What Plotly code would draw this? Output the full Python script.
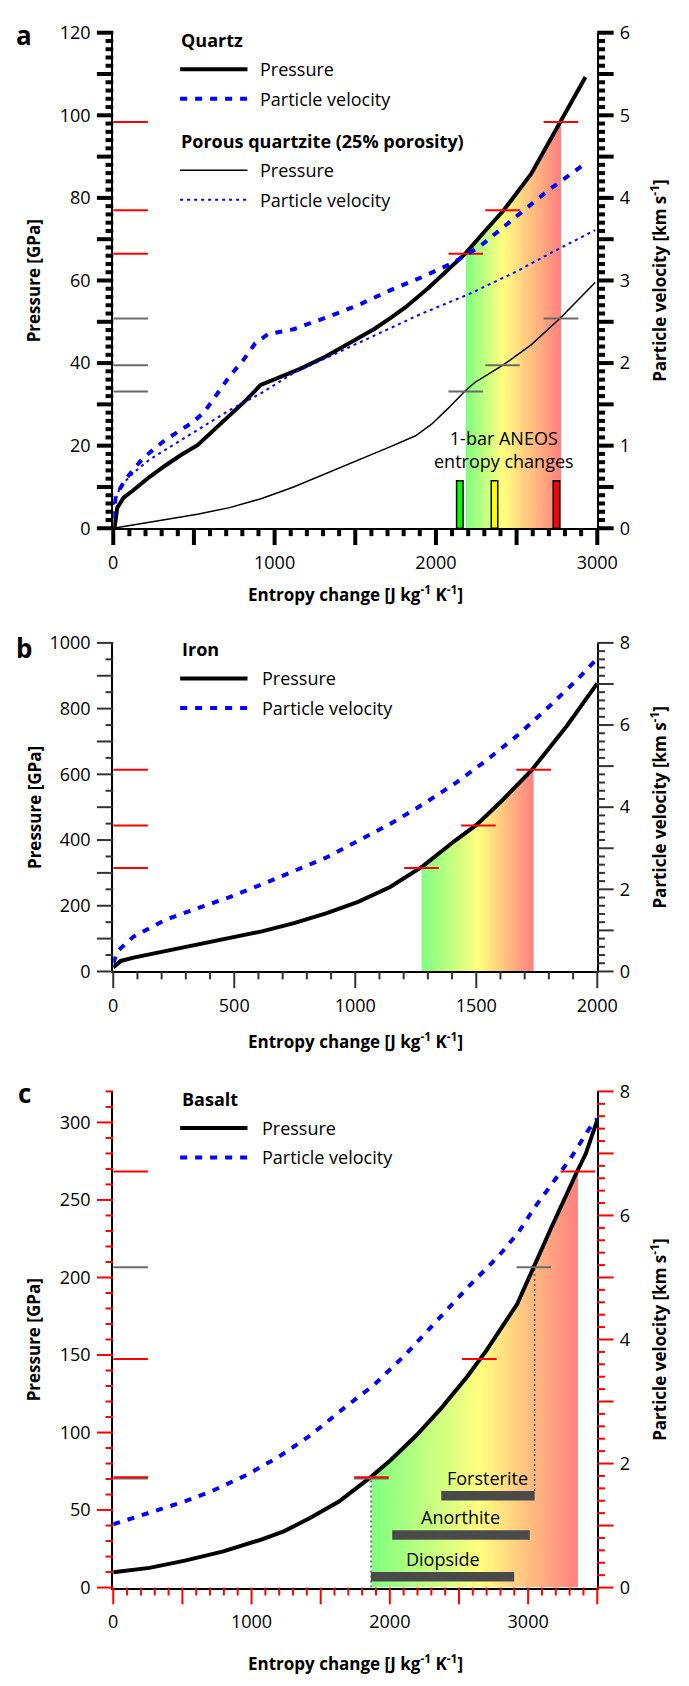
import numpy as np
import plotly.graph_objects as go

W, H = 689, 1686
FONT = "Open Sans"

# ---------------- DATA ----------------
qz_S = [0, 9, 25, 64, 124, 224, 323, 422, 522, 621, 721, 820, 914, 1019, 1158, 1317, 1476, 1615, 1715,
        1814, 1953, 2182, 2311, 2420, 2590, 2768, 2927]
qz_P = [0, 0.3, 5.0, 7.4, 9.2, 12.4, 15.2, 17.8, 20.1, 23.7, 27.3, 30.9, 34.7, 36.4, 38.6, 41.6, 45.0, 48.2, 50.8,
        53.6, 58.2, 66.5, 72.3, 77.0, 85.8, 98.3, 109.3]
qzv_S = [0, 15, 75, 184, 323, 482, 562, 621, 721, 800, 880, 959, 1118, 1317, 1516, 1715, 1913, 2112, 2271, 2470,
         2709, 2907]
qzv_v = [0.12, 0.39, 0.59, 0.85, 1.07, 1.27, 1.40, 1.56, 1.84, 2.02, 2.24, 2.35, 2.41, 2.55, 2.70, 2.88, 3.04, 3.22,
         3.41, 3.73, 4.11, 4.39]
pq_S = [0, 224, 522, 721, 920, 1118, 1317, 1516, 1715, 1874, 1973, 2072, 2182, 2241, 2420, 2590, 2768, 2987]
pq_P = [0, 1.4, 3.4, 5.0, 7.2, 10.0, 13.2, 16.4, 19.7, 22.4, 25.2, 28.9, 33.3, 35.3, 39.6, 44.4, 50.8, 59.5]
pqv_S = [0, 45, 124, 224, 323, 522, 721, 920, 1118, 1317, 1516, 1715, 1913, 2211, 2510, 2709, 2987]
pqv_v = [0.28, 0.51, 0.67, 0.83, 0.95, 1.19, 1.43, 1.64, 1.88, 2.06, 2.24, 2.43, 2.60, 2.84, 3.12, 3.33, 3.61]
qz_thr_S = [2185, 2413, 2775]
qz_thr_P = [66.5, 77.0, 98.4]
pq_thr_P = [33.1, 39.5, 50.8]
aneos_S = [2148, 2363, 2747]
aneos_h = [11.5, 11.5, 11.5]
aneos_col = ["#00ff00", "#ffff00", "#ff0000"]

fe_S = [0, 31, 84, 216, 349, 481, 614, 747, 879, 1012, 1144, 1277, 1410, 1502, 1609, 1728, 1874, 2000]
fe_P = [12, 32, 42, 62, 82, 102, 122, 147, 177, 212, 257, 319, 397, 447, 522, 612, 747, 877]
fev_S = [0, 17, 84, 216, 349, 481, 614, 747, 879, 1012, 1144, 1277, 1410, 1542, 1675, 1808, 1914, 2000]
fev_v = [0.2, 0.49, 0.85, 1.26, 1.54, 1.81, 2.12, 2.44, 2.77, 3.18, 3.59, 4.06, 4.57, 5.14, 5.77, 6.49, 7.09, 7.62]
fe_thr_S = [1274, 1509, 1737]
fe_thr_P = [315, 444, 614]

ba_S = [0, 262, 518, 796, 1075, 1237, 1423, 1632, 1864, 2003, 2189, 2374, 2560, 2699, 2920, 3035, 3164, 3349,
        3418, 3500]
ba_P = [9.9, 12.7, 17.4, 23.3, 31.1, 36.4, 44.9, 55.5, 71.4, 82.0, 97.9, 115.9, 136.1, 153.0, 182.7, 206.4,
        231.4, 267.4, 280.1, 301.4]
bav_S = [0, 262, 518, 727, 959, 1191, 1423, 1655, 1887, 2119, 2351, 2572, 2792, 2931, 3047, 3175, 3307, 3442, 3500]
bav_v = [1.02, 1.20, 1.39, 1.57, 1.81, 2.10, 2.45, 2.87, 3.27, 3.77, 4.33, 4.86, 5.36, 5.73, 6.13, 6.53, 6.92,
         7.40, 7.56]
ba_thr_S = [1867, 2647, 3360]
ba_thr_P = [71.2, 147.5, 268.3]
ba_gray_S = [1867, 3041]
ba_gray_P = [70.4, 206.6]
min_names = ["Forsterite", "Anorthite", "Diopside"]
min_start = [2372, 2017, 1864]
min_end = [3047, 3012, 2899]
min_P = [59.3, 33.9, 7.0]

X0, X1 = 112.5, 615.5
PAN = {"a": (20, 522.7), "b": (639, 972.3), "c": (1094, 1597.3)}
MARK_PX = 36
GREEN, YELLOW, RED = "rgb(128,255,128)", "rgb(255,255,128)", "rgb(255,128,128)"
BLUE = "#0000ff"
GRAYM = "#6a6a6a"
THICK_DASH = "7px,8px"
THIN_DASH = "3px,4px"
LONG, SHORT = 17, 8
TICKSTYLE = {"a": ("black", 4), "b": ("#333333", 2), "c": ("red", 2)}


def px(x):
    return float(x) / W


def py(y):
    return 1 - float(y) / H


fig = go.Figure()


def line(x, y, xa, ya, color, width, dash="solid"):
    fig.add_trace(go.Scatter(x=x, y=y, xaxis=xa, yaxis=ya, mode="lines",
                             line=dict(color=color, width=width, dash=dash),
                             hoverinfo="skip", showlegend=False))


def fill(S, P, lo, mid, hi, xa, ya):
    xs = [lo] + [s for s in S if lo < s < hi] + [hi]
    ys = [float(np.interp(lo, S, P))] + [p for s, p in zip(S, P) if lo < s < hi] + [float(np.interp(hi, S, P))]
    f = (mid - lo) / (hi - lo)
    fig.add_trace(go.Scatter(x=xs, y=ys, xaxis=xa, yaxis=ya, mode="lines", fill="tozeroy",
                             line=dict(width=0, color="rgba(0,0,0,0)"),
                             fillgradient=dict(type="horizontal",
                                               colorscale=[[0, GREEN], [f, YELLOW], [1, RED]]),
                             hoverinfo="skip", showlegend=False))


def marks(centers, levels, half, xa, ya, color, left=True):
    xs, ys = [], []
    for c, l in zip(centers, levels):
        xs += [c - half, c + half, None]
        ys += [l, l, None]
        if left:
            xs += [0, 2 * half, None]
            ys += [l, l, None]
    line(xs, ys, xa, ya, color, 2)


half_a = MARK_PX / (X1 - X0) * 3000 / 2
fill(qz_S, qz_P, qz_thr_S[0], qz_thr_S[1], qz_thr_S[2], "x", "y")
for s, h, c in zip(aneos_S, aneos_h, aneos_col):
    fig.add_trace(go.Scatter(x=[s - 20, s + 20, s + 20, s - 20, s - 20], y=[0, 0, h, h, 0], xaxis="x", yaxis="y",
                             mode="lines", fill="toself", fillcolor=c, line=dict(color="black", width=1.5),
                             hoverinfo="skip", showlegend=False))
line(pq_S, pq_P, "x", "y", "black", 1.5)
line(pqv_S, pqv_v, "x", "y2", BLUE, 2, THIN_DASH)
line(qzv_S, qzv_v, "x", "y2", BLUE, 4, THICK_DASH)
line(qz_S, qz_P, "x", "y", "black", 4)
marks(qz_thr_S, pq_thr_P, half_a, "x", "y", GRAYM)
marks(qz_thr_S, qz_thr_P, half_a, "x", "y", "red")

half_b = MARK_PX / (X1 - X0) * 2000 / 2
fill(fe_S, fe_P, fe_thr_S[0], fe_thr_S[1], fe_thr_S[2], "x2", "y3")
line(fev_S, fev_v, "x2", "y4", BLUE, 4, THICK_DASH)
line(fe_S, fe_P, "x2", "y3", "black", 4)
marks(fe_thr_S, fe_thr_P, half_b, "x2", "y3", "red")

half_c = MARK_PX / (X1 - X0) * 3500 / 2
fill(ba_S, ba_P, ba_thr_S[0], ba_thr_S[1], ba_thr_S[2], "x3", "y5")
for s, e, p in zip(min_start, min_end, min_P):
    line([s, e], [p, p], "x3", "y5", "#4a4a4a", 9.5)
line([min_start[2], min_start[2]], [0, ba_thr_P[0]], "x3", "y5", "#555555", 1.5, "2px,3px")
line([min_end[0], min_end[0]], [min_P[0] + 3, ba_gray_P[1]], "x3", "y5", "#555555", 1.5, "2px,3px")
line(bav_S, bav_v, "x3", "y6", BLUE, 4, THICK_DASH)
line(ba_S, ba_P, "x3", "y5", "black", 4)
marks(ba_gray_S, ba_gray_P, half_c, "x3", "y5", GRAYM)
marks(ba_thr_S, ba_thr_P, half_c, "x3", "y5", "red")

tickfont = dict(family=FONT, size=18, color="black")
shapes = []


def axis(rng, dom, anchor, side, step, overlay=None):
    d = dict(domain=dom, range=rng, anchor=anchor, side=side, tickmode="linear", tick0=0, dtick=step,
             ticks="outside", ticklen=LONG, tickwidth=2, tickcolor="rgba(0,0,0,0)", showticklabels=True,
             showline=True, linewidth=2, linecolor="black", showgrid=False, zeroline=False,
             tickfont=tickfont, fixedrange=True)
    if overlay:
        d["overlaying"] = overlay
    return d


def tick_marks(vmax, major, minor, kind, pan, style):
    top, bot = pan
    n = int(round(vmax / minor))
    for i in range(n + 1):
        v = i * minor
        ln = LONG if abs(v / major - round(v / major)) < 1e-6 else SHORT
        if kind == "x":
            xp = X0 + v / vmax * (X1 - X0)
            x0, x1, y0, y1 = xp, xp, bot, bot + ln
        else:
            yp = bot - v / vmax * (bot - top)
            if kind == "left":
                x0, x1 = X0 - ln, X0
            else:
                x0, x1 = X1, X1 + ln
            y0 = y1 = yp
        shapes.append(dict(type="line", xref="paper", yref="paper", x0=px(x0), x1=px(x1), y0=py(y0), y1=py(y1),
                           line=dict(color=style[0], width=style[1])))


axes_spec = [
    ("xaxis", 3000, 1000, 500, 100, "yaxis", 120, 20, 10, 2, "yaxis2", 6, 1, 0.5, 0.1, "a", "x", "y"),
    ("xaxis2", 2000, 500, 500, 100, "yaxis3", 1000, 200, 100, 50, "yaxis4", 8, 2, 1, 0.2, "b", "x2", "y3"),
    ("xaxis3", 3500, 1000, 500, 100, "yaxis5", 320, 50, 50, 10, "yaxis6", 8, 2, 1, 0.2, "c", "x3", "y5"),
]
lay = {}
for (xk, xm, xl, xM, xmn, ylk, ym, yl, yM, ymn, yrk, vm, vl, vM, vmn, pk, xid, yid) in axes_spec:
    top, bot = PAN[pk]
    xdom = [px(X0), px(X1)]
    ydom = [py(bot), py(top)]
    lay[xk] = axis([0, xm], xdom, yid, "bottom", xl)
    lay[ylk] = axis([0, ym], ydom, xid, "left", yl)
    lay[yrk] = axis([0, vm], ydom, xid, "right", vl, overlay=yid)
    tick_marks(xm, xM, xmn, "x", PAN[pk], TICKSTYLE[pk])
    tick_marks(ym, yM, ymn, "left", PAN[pk], TICKSTYLE[pk])
    tick_marks(vm, vM, vmn, "right", PAN[pk], TICKSTYLE[pk])
fig.update_layout(**lay)

ann = []


def text(x, y, s, size=18, bold=False, xanchor="left", yanchor="middle", angle=0):
    ann.append(dict(x=px(x), y=py(y), xref="paper", yref="paper", text=f"<b>{s}</b>" if bold else s,
                    showarrow=False, xanchor=xanchor, yanchor=yanchor, textangle=angle,
                    font=dict(family=FONT, size=size, color="black")))


def sample(y, color, width, dash):
    shapes.append(dict(type="line", xref="paper", yref="paper", x0=px(182), x1=px(252), y0=py(y), y1=py(y),
                       line=dict(color=color, width=width, dash=dash)))


xtitle = "Entropy change [J kg<sup>-1</sup> K<sup>-1</sup>]"
for key, letter, xt_y in (("a", "a", 589), ("b", "b", 1042), ("c", "c", 1673)):
    top, bot = PAN[key]
    text(20, top + 2 if key != "b" else top + 5, letter, size=26, bold=True, xanchor="center")
    text((X0 + X1) / 2, xt_y, xtitle, size=17, bold=True, xanchor="center")
    text(30, (top + bot) / 2, "Pressure [GPa]", size=17, bold=True, xanchor="center", angle=-90)
    text(679, (top + bot) / 2, "Particle velocity [km s<sup>-1</sup>]", size=17, bold=True, xanchor="center",
         angle=-90)

text(181, 27, "Quartz", bold=True)
sample(57, "black", 4, "solid")
text(263, 57, "Pressure")
sample(87, BLUE, 4, THICK_DASH)
text(263, 87, "Particle velocity")
text(181, 130, "Porous quartzite (25% porosity)", bold=True)
sample(159.5, "black", 1.5, "solid")
text(263, 159.5, "Pressure")
sample(189.5, BLUE, 2, THIN_DASH)
text(263, 189.5, "Particle velocity")
text(182, 645, "Iron", bold=True)
sample(675, "black", 4, "solid")
text(265, 675, "Pressure")
sample(705, BLUE, 4, THICK_DASH)
text(265, 705, "Particle velocity")
text(182, 1102, "Basalt", bold=True)
sample(1131, "black", 4, "solid")
text(265, 1131, "Pressure")
sample(1161, BLUE, 4, THICK_DASH)
text(265, 1161, "Particle velocity")

ann.append(dict(x=2424, y=19, xref="x", yref="y",
                text="1-bar ANEOS<br>entropy changes", showarrow=False, xanchor="center", yanchor="middle",
                font=dict(family=FONT, size=18, color="black")))
for n, s, e, p in zip(min_names, min_start, min_end, min_P):
    ann.append(dict(x=(s + e) / 2, y=p, xref="x3", yref="y5", text=n, showarrow=False, xanchor="center",
                    yanchor="bottom", yshift=4, font=dict(family=FONT, size=18, color="black")))

fig.update_layout(width=W, height=H, margin=dict(l=0, r=0, t=0, b=0), paper_bgcolor="white",
                  plot_bgcolor="white", showlegend=False, annotations=ann, shapes=shapes,
                  font=dict(family=FONT, color="black"))

fig.write_html("out.html")
